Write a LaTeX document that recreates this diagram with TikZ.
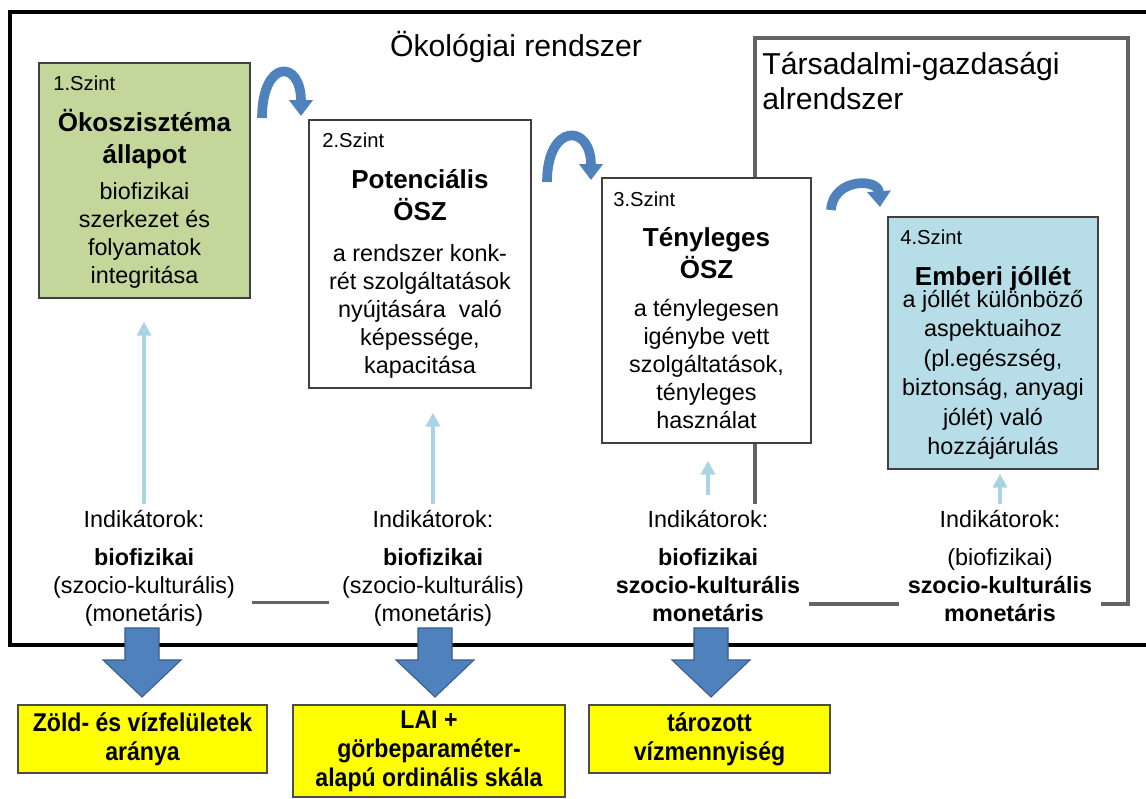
\documentclass[tikz,border=0pt]{standalone}
\usepackage{fontspec}
\setmainfont{Liberation Sans}
\newfontfamily\narrowfont[FakeStretch=0.9]{Liberation Sans}
\usepackage{tikz}
\usetikzlibrary{positioning, arrows.meta}
\definecolor{EkoGreen}{RGB}{196,215,155}
\definecolor{EkoBlue}{RGB}{183,222,232}
\definecolor{EkoSky}{RGB}{170,212,228}
\definecolor{EkoArrow}{RGB}{79,129,189}
\definecolor{EkoArrowDk}{RGB}{56,93,138}
\definecolor{EkoGray}{RGB}{100,100,100}
\definecolor{EkoYellow}{RGB}{255,255,0}
\newcommand{\bodyfont}{\fontsize{13.3}{15.9}\selectfont}
\newcommand{\ttlfont}{\fontsize{14.8}{18.1}\selectfont\bfseries}
\newcommand{\lvlfont}{\fontsize{11.5}{13}\selectfont}
\newcommand{\headfont}{\fontsize{17.2}{19.8}\selectfont}
\newcommand{\yfont}{\fontsize{14.6}{16.6}\selectfont\narrowfont\bfseries}

\begin{document}
\begin{tikzpicture}[x=0.02cm, y=-0.02cm,
      szbox/.style={rectangle, draw=black!75, line width=0.8pt, inner sep=0pt},
      lvl/.style={anchor=base west, inner sep=0pt, font=\lvlfont},
      ttl/.style={anchor=north, align=center, inner sep=0pt, font=\ttlfont},
      txt/.style={anchor=north, align=center, inner sep=0pt, font=\bodyfont},
      ind/.style={anchor=north, align=center, fill=white, inner ysep=2pt,
                  inner xsep=5pt, font=\bodyfont},
      ybox/.style={rectangle, draw=black!70, line width=0.8pt, fill=EkoYellow,
                   align=center, inner sep=0pt, font=\yfont},
      uparr/.style={-{Triangle[length=8pt, width=8pt]}, draw=EkoSky, line width=2.5pt},
      curv/.style={-{Triangle[length=9pt, width=13pt]}, draw=EkoArrow, line width=5.5pt},
      gline/.style={draw=EkoGray, line width=1.8pt},
      bigarr/.style={fill=EkoArrow, draw=EkoArrowDk, line width=0.6pt}
    ]
    \useasboundingbox (0,0) rectangle (1146,798);
    \fill[white] (0,0) rectangle (1146,798);

    \draw[black, line width=2pt] (1160,645) -- (10,645) -- (10,12) -- (1160,12);
    \draw[gline] (755,38) rectangle (1128,604);

    \node[font=\headfont, anchor=base, inner sep=0pt] (eko) at (516,56) {Ökológiai rendszer};
    \node[font=\headfont, anchor=north west, align=left, inner sep=0pt] (tars) at (762,50)
          {\strut Társadalmi-gazdasági\\alrendszer};

    \node[szbox, fill=EkoGreen, minimum width=4.22cm, minimum height=4.70cm] (b1) at (144.5,180.5) {};
    \node[szbox, fill=white,    minimum width=4.44cm, minimum height=5.36cm] (b2) at (420,254) {};
    \node[szbox, fill=white,    minimum width=4.18cm, minimum height=5.30cm] (b3) at (706.5,310.5) {};
    \node[szbox, fill=EkoBlue,  minimum width=4.20cm, minimum height=5.04cm] (b4) at (993,343) {};

    \node[lvl] (l1) at (53,90)  {1.Szint};
    \node[lvl] (l2) at (322,147) {2.Szint};
    \node[lvl] (l3) at (613,206) {3.Szint};
    \node[lvl] (l4) at (900,244) {4.Szint};

    \node[ttl] (t1) at (144.5,109) {\strut Ökoszisztéma\\állapot};
    \node[ttl] (t2) at (420,166)   {\strut Potenciális\\ÖSZ};
    \node[ttl] (t3) at (706.5,224) {\strut Tényleges\\ÖSZ};
    \node[ttl] (t4) at (993,263)   {\strut Emberi jóllét};

    \node[txt] (d1) at (144.5,180) {\strut biofizikai\\szerkezet és\\folyamatok\\integritása};
    \node[txt] (d2) at (420,242)
          {\strut a rendszer konk-\\rét szolgáltatások\\nyújtására\ \ való\\képessége,\\kapacitása};
    \node[txt] (d3) at (706.5,297)
          {\strut a ténylegesen\\igénybe vett\\szolgáltatások,\\tényleges\\használat};
    \node[txt, font=\fontsize{13.3}{16.8}\selectfont] (d4) at (993,286)
          {\strut a jóllét különböző\\aspektuaihoz\\(pl.egészség,\\biztonság, anyagi\\jólét) való\\hozzájárulás};

    \draw[curv] (262,118) .. controls (262,59) and (301,59) .. (301,116);
    \draw[curv] (547,182) .. controls (547,123) and (591,123) .. (591,180);
    \draw[curv] (831,210) .. controls (833,178) and (878,178) .. (880,207);

    \node[ind] (ind1) at (144,504)
          {\strut Indikátorok:\\[6pt]\textbf{biofizikai}\\(szocio-kulturális)\\(monetáris)};
    \node[ind] (ind2) at (433,504)
          {\strut Indikátorok:\\[6pt]\textbf{biofizikai}\\(szocio-kulturális)\\(monetáris)};
    \node[ind] (ind3) at (708,504)
          {\strut Indikátorok:\\[6pt]\textbf{biofizikai}\\\textbf{szocio-kulturális}\\\textbf{monetáris}};
    \node[ind] (ind4) at (1000,504)
          {\strut Indikátorok:\\[6pt](biofizikai)\\\textbf{szocio-kulturális}\\\textbf{monetáris}};

    \draw[uparr, shorten >=0.46cm] (ind1.north) -- (ind1.north |- b1.south);
    \draw[uparr, shorten >=0.48cm] (ind2.north) -- (ind2.north |- b2.south);
    \draw[uparr, shorten <=0.18cm, shorten >=0.34cm] (ind3.north) -- (ind3.north |- b3.south);
    \draw[uparr, shorten >=0.08cm] (ind4.north) -- (ind4.north |- b4.south);

    \draw[gline, shorten <=0.16cm, shorten >=0.08cm]
          ([yshift=-0.7cm]ind1.east) -- ([yshift=-0.7cm]ind2.west);

    \node[ybox, minimum width=4.98cm, minimum height=1.36cm] (y1) at (142.5,739)
          {Zöld- és vízfelületek\\aránya};
    \node[ybox, minimum width=5.44cm, minimum height=1.84cm] (y2) at (429,751)
          {LAI +\\görbeparaméter-\\alapú ordinális skála};
    \node[ybox, minimum width=4.82cm, minimum height=1.36cm] (y3) at (709.5,739)
          {tározott\\vízmennyiség};

    \foreach \x in {142,435,711}{
      \draw[bigarr] (\x-17,628) -- (\x+17,628) -- (\x+17,660) -- (\x+39,660)
            -- (\x,697) -- (\x-39,660) -- (\x-17,660) -- cycle;
    }
  \end{tikzpicture}
\end{document}
